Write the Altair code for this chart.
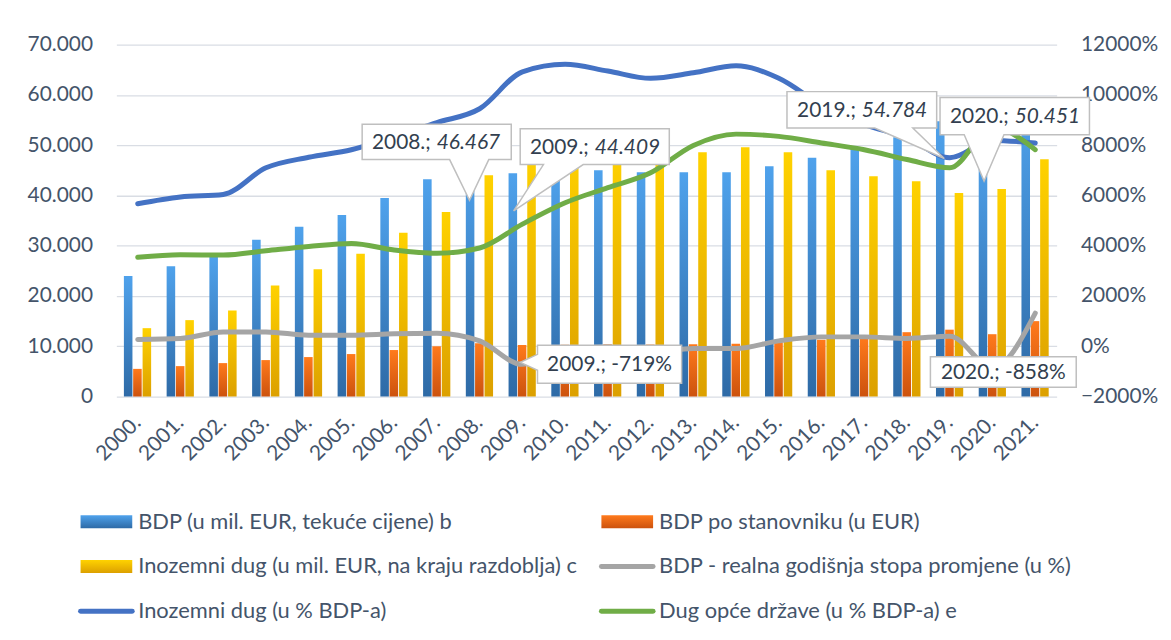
import altair as alt
import pandas as pd

# ---------------- data ----------------
years = [f"{y}." for y in range(2000, 2022)]

# BDP (u mil. EUR, tekuće cijene)
bdp = [24000, 25900, 28000, 31200, 33800, 36100, 39500, 43200, 46467, 44409, 45000,
       45000, 44600, 44600, 44600, 45800, 47500, 49600, 51600, 54784, 50451, 58000]
# BDP po stanovniku (u EUR)
bdp_pc = [5500, 6050, 6650, 7250, 7850, 8450, 9250, 10000, 10600, 10250, 10300,
          10400, 10350, 10400, 10500, 10800, 11300, 11900, 12800, 13300, 12400, 15000]
# Inozemni dug (u mil. EUR, na kraju razdoblja)
ext_debt = [13600, 15200, 17100, 22100, 25300, 28400, 32600, 36700, 44000, 48000, 50400,
            49300, 47500, 48600, 49600, 48600, 45000, 43800, 42850, 40500, 41300, 47200]
# Inozemni dug (u % BDP-a)  (shown as in the source, x100)
ext_debt_pct = [5670, 5940, 6040, 7100, 7520, 7820, 8330, 8900, 9450, 10920, 11220,
                10950, 10660, 10880, 11160, 10660, 9600, 8830, 8300, 7500, 8190, 8090]
# Dug opće države (u % BDP-a)
gov_debt_pct = [3540, 3640, 3630, 3800, 3970, 4090, 3830, 3700, 3910, 4860, 5710,
                6310, 6900, 7990, 8440, 8350, 8090, 7820, 7430, 7100, 8700, 7820]
# BDP - realna godišnja stopa promjene
gdp_growth = [270, 310, 570, 570, 440, 440, 500, 520, 215, -719, -150,
              -30, -230, -86, -86, 215, 373, 373, 310, 400, -858, 1320]

legend_labels = [
    "BDP (u mil. EUR, tekuće cijene) b",
    "BDP po stanovniku (u EUR)",
    "Inozemni dug  (u mil. EUR, na kraju razdoblja) c",
    "BDP - realna godišnja stopa promjene (u %)",
    "Inozemni dug (u % BDP-a)",
    "Dug opće države (u % BDP-a) e",
]

left_callout_years = ["2008.", "2009.", "2019.", "2020."]
right_callout_years = ["2009.", "2020."]

# ---------------- styles ----------------
FONT = "Lato"
TXT = "#44546A"
CALL_TXT = "#333F4F"
BLUE_LINE = "#4472C4"
GREEN_LINE = "#70AD47"
GREY_LINE = "#A5A5A5"


def grad(top, bottom):
    return alt.Gradient(gradient="linear",
                        stops=[alt.GradientStop(color=top, offset=0),
                               alt.GradientStop(color=bottom, offset=1)],
                        x1=0, x2=0, y1=0, y2=1)


G_BLUE = grad("#4FA2EC", "#2E6AA6")
G_ORANGE = grad("#FF7A1C", "#CC520E")
G_YELLOW = grad("#FFD200", "#DCA000")

W, H = 946, 354

bars_df = pd.DataFrame({"year": years, "bdp": bdp, "bdp_pc": bdp_pc, "ext_debt": ext_debt})
lines_df = pd.DataFrame({"year": years, "ext_pct": ext_debt_pct, "gov_pct": gov_debt_pct,
                         "growth": gdp_growth})

x_enc = alt.X("year:N", sort=years,
              scale=alt.Scale(domain=years, paddingInner=0, paddingOuter=0),
              axis=alt.Axis(title=None, labelAngle=-45, labelAlign="right",
                            labelBaseline="middle", labelPadding=23, ticks=False,
                            domain=False, labelFont=FONT, labelFontSize=21,
                            labelColor=TXT, grid=False))

left_scale = alt.Scale(domain=[0, 70000], nice=False, zero=False)
right_scale = alt.Scale(domain=[-2000, 12000], nice=False, zero=False)

left_axis = alt.Axis(title=None, values=list(range(0, 70001, 10000)), grid=True,
                     gridColor="#D9DDE4", gridWidth=1.3, ticks=False, domain=False,
                     labelPadding=24, labelFont=FONT, labelFontSize=21, labelColor=TXT,
                     labelExpr="replace(format(datum.value, ','), ',', '.')")
right_axis = alt.Axis(title=None, orient="right", values=list(range(-2000, 12001, 2000)),
                      grid=False, ticks=False, domain=False, labelPadding=24,
                      labelFont=FONT, labelFontSize=21, labelColor=TXT,
                      labelExpr="format(datum.value, 'd') + '%'")

BW = 8.6
bar_blue = alt.Chart(bars_df).mark_bar(width=BW, xOffset=-9.6, color=G_BLUE).encode(
    x=x_enc, y=alt.Y("bdp:Q", scale=left_scale, axis=left_axis))
bar_orange = alt.Chart(bars_df).mark_bar(width=BW, xOffset=-0.3, color=G_ORANGE).encode(
    x=x_enc, y=alt.Y("bdp_pc:Q", scale=left_scale, axis=left_axis))
bar_yellow = alt.Chart(bars_df).mark_bar(width=BW, xOffset=9.2, color=G_YELLOW).encode(
    x=x_enc, y=alt.Y("ext_debt:Q", scale=left_scale, axis=left_axis))
bars_layer = alt.layer(bar_blue, bar_orange, bar_yellow)


def line(field, color):
    return alt.Chart(lines_df).mark_line(interpolate="monotone", strokeWidth=5,
                                         strokeCap="round", strokeJoin="round",
                                         color=color).encode(
        x=x_enc, y=alt.Y(f"{field}:Q", scale=right_scale, axis=right_axis))


# ---------------- callouts ----------------
# geometry of each callout box relative to its data point (pixels)
GEOM = {
    ("L", "2008."): dict(box=(-118.2, 31.8, -39.0, -3.4), base=(-30.2, 9.2), tip=(-10.2, 37.6)),
    ("L", "2009."): dict(box=(-2.2, 147.8, -44.8, -8.8), base=(21.2, 61.2), tip=(-8.8, 37.9)),
    ("L", "2019."): dict(box=(-163.8, -13.2, -29.7, 7.0), base=(-75.5, -37.2), tip=(-5.5, 37.6)),
    ("L", "2020."): dict(box=(-52.8, 97.5, -45.6, -8.3), base=(-28.5, 11.5), tip=(-8.5, 38.4)),
    ("R", "2009."): dict(box=(15.2, 160.2, -19.3, 19.0), side=(-10.0, 6.0), tip=(-2.0, -2.0)),
    ("R", "2020."): dict(box=(-62.5, 84.2, -11.1, 19.5)),
}


def callout_path(g):
    x0, x1, y0, y1 = g["box"]
    pts = [(x0, y0), (x1, y0), (x1, y1)]
    if "base" in g:
        b0, b1 = g["base"]
        tx, ty = g["tip"]
        pts += [(b1, y1), (tx, ty), (b0, y1), (x0, y1)]
    elif "side" in g:
        s0, s1 = g["side"]
        tx, ty = g["tip"]
        pts += [(x0, y1), (x0, s1), (tx, ty), (x0, s0)]
    else:
        pts += [(x0, y1)]
    d = "M" + " L".join(f"{px:.1f},{py:.1f}" for px, py in pts) + " Z"
    return d


def fmt_thousands(v):
    return f"{v:,}".replace(",", ".")


left_call_layers = []
for yr in left_callout_years:
    v = bdp[years.index(yr)]
    df = pd.DataFrame({"year": [yr], "v": [v], "pre": [f"{yr};"],
                       "val": [fmt_thousands(v)]})
    g = GEOM[("L", yr)]
    x0, x1, y0, y1 = g["box"]
    cx, cy = (x0 + x1) / 2 - 3, (y0 + y1) / 2 + 1
    ye = alt.Y("v:Q", scale=left_scale, axis=None)
    base = alt.Chart(df).encode(x=x_enc, y=ye)
    left_call_layers += [
        base.mark_point(shape=callout_path(g), size=4, filled=True, fill="white",
                        stroke="#BFBFBF", strokeWidth=1.5, opacity=1),
        base.mark_text(dx=cx - 3, dy=cy, align="right", baseline="middle", font=FONT,
                       fontSize=21, color=CALL_TXT).encode(text="pre:N"),
        base.mark_text(dx=cx + 3, dy=cy, align="left", baseline="middle", font=FONT,
                       fontSize=21, fontStyle="italic", color=CALL_TXT).encode(text="val:N"),
    ]
left_call_layer = alt.layer(*left_call_layers)

right_call_layers = []
for yr in right_callout_years:
    v = gdp_growth[years.index(yr)]
    df = pd.DataFrame({"year": [yr], "v": [v], "txt": [f"{yr}; {v}%"]})
    g = GEOM[("R", yr)]
    x0, x1, y0, y1 = g["box"]
    cx, cy = (x0 + x1) / 2, (y0 + y1) / 2 + 1
    ye = alt.Y("v:Q", scale=right_scale, axis=right_axis)
    base = alt.Chart(df).encode(x=x_enc, y=ye)
    right_call_layers += [
        base.mark_point(shape=callout_path(g), size=4, filled=True, fill="white",
                        stroke="#BFBFBF", strokeWidth=1.5, opacity=1),
        base.mark_text(dx=cx, dy=cy, align="center", baseline="middle", font=FONT,
                       fontSize=21, color=CALL_TXT).encode(text="txt:N"),
    ]

lines_layer = alt.layer(line("ext_pct", BLUE_LINE), line("growth", GREY_LINE),
                        line("gov_pct", GREEN_LINE), *right_call_layers)

data_layer = alt.layer(bars_layer, lines_layer, left_call_layer).resolve_scale(y="independent")

# ---------------- legend ----------------
leg_df = pd.DataFrame({
    "label": legend_labels,
    "col": [0, 1, 0, 1, 0, 1],
    "row": [0, 0, 1, 1, 2, 2],
    "kind": ["bar", "bar", "bar", "line", "line", "line"],
    "color": ["#3D86CC", "#EE6A16", "#F0BC00", GREY_LINE, BLUE_LINE, GREEN_LINE],
})
lx = alt.X("col:Q", scale=alt.Scale(domain=[0, 1], range=[-36, 488], zero=False, nice=False),
           axis=None)
ly = alt.Y("row:Q", scale=alt.Scale(domain=[0, 2], range=[480, 570], zero=False, nice=False),
           axis=None)
leg_base = alt.Chart(leg_df).encode(x=lx, y=ly)
leg_layers = []
for lab, gr in zip(legend_labels[:3], [G_BLUE, G_ORANGE, G_YELLOW]):
    leg_layers.append(
        leg_base.transform_filter(alt.datum.label == lab)
        .mark_rect(color=gr, x2Offset=52, yOffset=-6.5, y2Offset=6.5)
        .encode(x2="col:Q", y2="row:Q"))
leg_layers.append(
    leg_base.transform_filter(alt.datum.kind == "line")
    .mark_rule(strokeWidth=5, strokeCap="round", x2Offset=52)
    .encode(x2="col:Q", color=alt.Color("color:N", scale=None)))
leg_layers.append(
    leg_base.mark_text(align="left", baseline="middle", dx=58, font=FONT, fontSize=22,
                       color=TXT).encode(text="label:N"))
legend_layer = alt.layer(*leg_layers)

chart = alt.layer(data_layer, legend_layer).resolve_scale(
    x="independent", y="independent"
).properties(
    width=W, height=H,
    padding={"left": 19, "top": 24, "right": 5, "bottom": 5},
    background="white",
).configure_view(stroke=None)

chart.save("out.html", embed_options={"renderer": "svg", "actions": False})
